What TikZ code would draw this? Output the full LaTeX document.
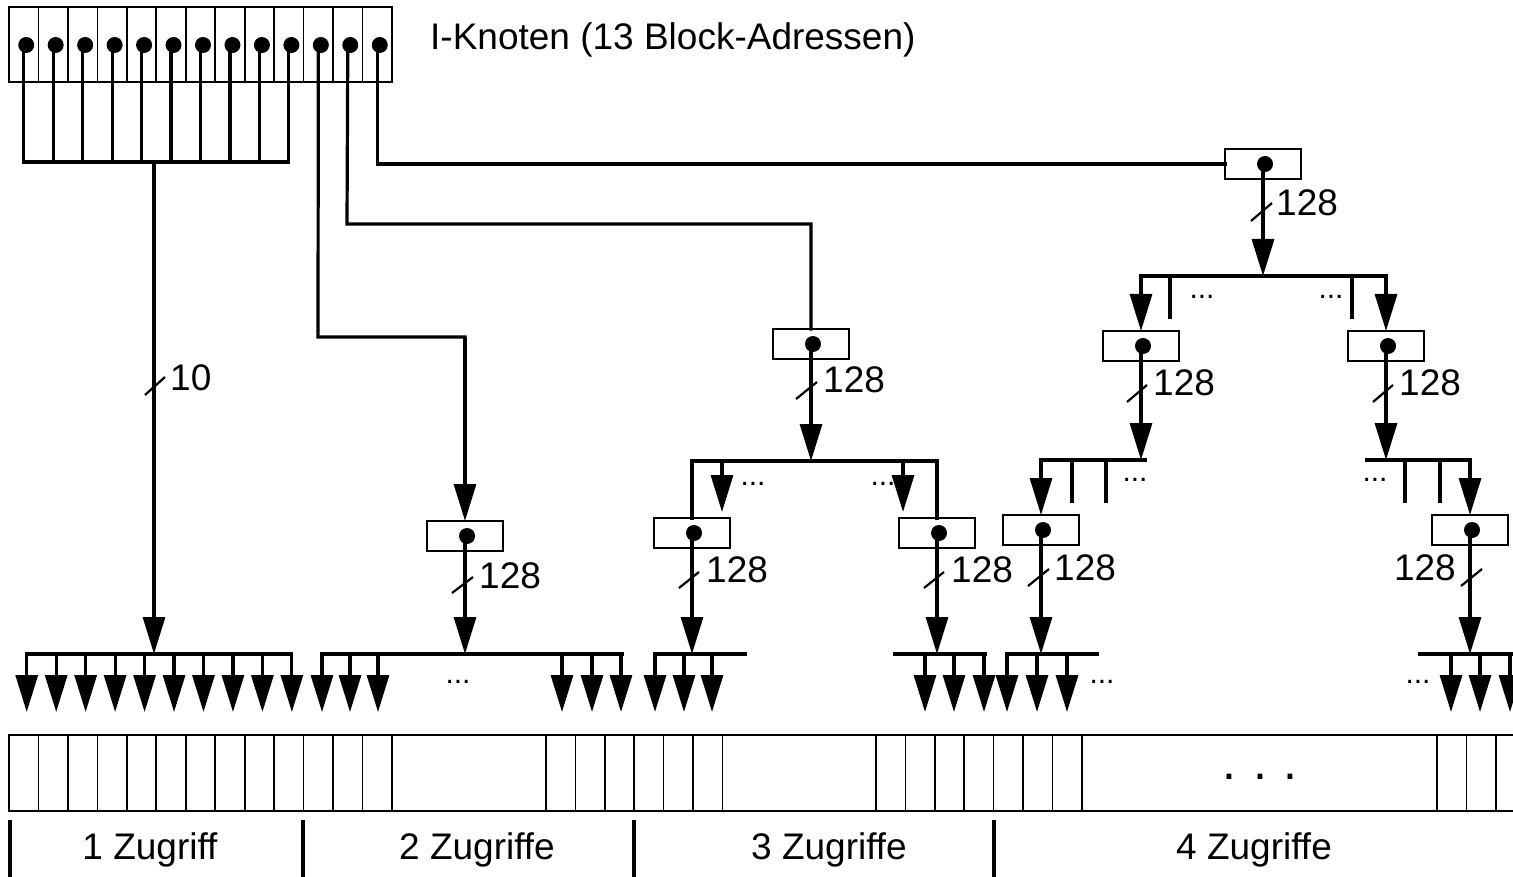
\documentclass[tikz,border=0pt]{standalone}
\usepackage{fontspec}
\setmainfont{Liberation Sans}
\usetikzlibrary{arrows.meta}
\begin{document}
\begin{tikzpicture}[x=1pt,y=-1pt,
  conn/.style={line width=3.2pt,line cap=rect},
  arr/.style={line width=3.2pt,-{Triangle[length=37pt,width=22pt]}},
  thinl/.style={line width=1.7pt},
  ptrbox/.style={draw,line width=1.7pt,minimum width=76pt,minimum height=30pt,inner sep=0pt,outer sep=0pt},
  dotc/.style={fill,circle,inner sep=0pt,minimum size=16pt},
  lbl/.style={font=\fontsize{37}{42}\selectfont,inner sep=0pt},
  smalldots/.style={font=\fontsize{30}{34}\selectfont,inner sep=0pt},
  slash/.style={line width=2.2pt}]
\useasboundingbox (0,0) rectangle (1513,877);

% ---------------- I-node ----------------
\draw[thinl] (9,7) rectangle (392,82);
\foreach \k in {1,...,12} \draw[thinl] (9+29.46*\k,7) -- (9+29.46*\k,82);
\foreach \k in {1,...,13}{
  \pgfmathsetmacro\cx{9+29.46*(\k-0.5)}
  \coordinate (l\k) at (\cx,45);
}
\node[lbl,anchor=west] (title) at (430,40) {I-Knoten (13 Block-Adressen)};

% direct pointers
\foreach \k in {2,...,9} \draw[conn] (l\k) -- (l\k |- 0,162);
\draw[conn] (l1) -- (l1 |- 0,162) -- (l10 |- 0,162) -- (l10);
\coordinate (t1) at (154,162);
\coordinate (lb1) at (154,654);
\draw[arr] (t1) -- (lb1);
\draw[slash] (145,395) -- (165,377);
\node[lbl,anchor=west] (n10) at (170,378) {10};

% ---------------- boxes ----------------
\node[ptrbox] (B1) at (1263,164) {};
\node[ptrbox] (B2) at (465,536) {};
\node[ptrbox] (B3) at (811,344) {};
\node[ptrbox] (B3L) at (692,533) {};
\node[ptrbox] (B3R) at (937,533) {};
\node[ptrbox] (B4L) at (1141,346) {};
\node[ptrbox] (B4R) at (1386,346) {};
\node[ptrbox] (B4LL) at (1041,530) {};
\node[ptrbox] (B4RR) at (1470,530) {};

% ---------------- single indirect (2 accesses) ----------------
\coordinate (c11) at (318,337);
\coordinate (c11b) at (465,337);
\draw[conn] (l11) -- (c11) -- (c11b);
\draw[arr] (c11b) -- (B2.north);
\coordinate (lb2) at (465,654);
\draw[arr] (B2.center) -- (lb2);
\draw[slash] (452,593) -- (473,577);
\node[lbl,anchor=west] (n2) at (479,576) {128};

% ---------------- double indirect (3 accesses) ----------------
\coordinate (c12) at (347,224);
\coordinate (c12b) at (811,224);
\draw[conn] (l12) -- (c12) -- (c12b) -- (B3.north);
\coordinate (h3) at (811,461);
\draw[arr] (B3.center) -- (h3);
\draw[slash] (796,399) -- (817,382);
\node[lbl,anchor=west] (n3) at (823,380) {128};
\coordinate (h3L) at (692,461);
\coordinate (h3R) at (937,461);
\draw[conn] (B3L.north) -- (h3L) -- (h3R) -- (B3R.north);
\draw[arr] (722,461) -- (722,512);
\draw[arr] (903,461) -- (903,512);
\node[smalldots] (e3a) at (753,484) {...};
\node[smalldots] (e3b) at (883,484) {...};
\coordinate (lb3L) at (692,654);
\coordinate (lb3R) at (937,654);
\draw[arr] (B3L.center) -- (lb3L);
\draw[arr] (B3R.center) -- (lb3R);
\draw[slash] (679,588) -- (699,572);
\draw[slash] (924,588) -- (944,572);
\node[lbl,anchor=west] (n3L) at (706,570) {128};
\node[lbl,anchor=west] (n3R) at (951,570) {128};

% ---------------- triple indirect (4 accesses) ----------------
\draw[conn] (l13) |- (B1.west);
\coordinate (h4) at (1263,276);
\draw[arr] (B1.center) -- (h4);
\draw[slash] (1251,221) -- (1272,203);
\node[lbl,anchor=west] (n4) at (1276,203) {128};
\coordinate (h4L) at (1141,276);
\coordinate (h4R) at (1386,276);
\draw[conn] (h4L) -- (h4R);
\draw[arr] (h4L) -- (B4L.north);
\draw[arr] (h4R) -- (B4R.north);
\draw[conn] (1170,276) -- (1170,317);
\draw[conn] (1352,276) -- (1352,317);
\node[smalldots] (e4a) at (1202,297) {...};
\node[smalldots] (e4b) at (1331,297) {...};

\coordinate (h5L) at (1141,460);
\coordinate (h5R) at (1386,460);
\draw[arr] (B4L.center) -- (h5L);
\draw[arr] (B4R.center) -- (h5R);
\draw[slash] (1127,402) -- (1147,385);
\draw[slash] (1373,402) -- (1393,385);
\node[lbl,anchor=west] (n4L) at (1153,383) {128};
\node[lbl,anchor=west] (n4R) at (1399,383) {128};

\coordinate (h6L) at (1041,460);
\coordinate (h6R) at (1470,460);
\draw[conn] (h6L) -- (1145,460);
\draw[conn] (1367,460) -- (h6R);
\draw[arr] (h6L) -- (B4LL.north);
\draw[arr] (h6R) -- (B4RR.north);
\draw[conn] (1072,460) -- (1072,501);
\draw[conn] (1106,460) -- (1106,501);
\draw[conn] (1405,460) -- (1405,501);
\draw[conn] (1440,460) -- (1440,501);
\node[smalldots] (e5a) at (1135,480) {...};
\node[smalldots] (e5b) at (1375,480) {...};

\coordinate (lb4L) at (1041,654);
\coordinate (lb4R) at (1470,654);
\draw[arr] (B4LL.center) -- (lb4L);
\draw[arr] (B4RR.center) -- (lb4R);
\draw[slash] (1028,586) -- (1049,569);
\draw[slash] (1461,586) -- (1482,569);
\node[lbl,anchor=west] (n4LL) at (1054,568) {128};
\node[lbl,anchor=east] (n4RR) at (1456,568) {128};

% ---------------- dots in pointer boxes ----------------
\foreach \b in {B1,B2,B3,B3L,B3R,B4L,B4R,B4LL,B4RR}
  \node[dotc] (\b dot) at ([xshift=2pt]\b.center) {};
\foreach \k in {1,...,13}
  \node[dotc] (d\k) at ([xshift=2.5pt]l\k) {};

% ---------------- leaf fan-outs ----------------
\draw[conn] (27,654) -- (291,654);
\foreach \k in {1,...,10}{
  \pgfmathsetmacro\ax{9+29.46*(\k-0.5)+3}
  \draw[arr] (\ax,654) -- (\ax,712);
}
\draw[conn] (322,654) -- (622,654);
\foreach \x in {322,350,378,562,592,621} \draw[arr] (\x,654) -- (\x,712);
\node[smalldots] (e6) at (458,682) {...};

\draw[conn] (655,654) -- (745,654);
\foreach \x in {655,684,712} \draw[arr] (\x,654) -- (\x,712);
\draw[conn] (895,654) -- (985,654);
\foreach \x in {925,954,984} \draw[arr] (\x,654) -- (\x,712);

\draw[conn] (1007,654) -- (1097,654);
\foreach \x in {1007,1037,1067} \draw[arr] (\x,654) -- (\x,712);
\node[smalldots] (e7) at (1102,682) {...};
\draw[conn] (1420,654) -- (1513,654);
\foreach \x in {1451,1480,1510} \draw[arr] (\x,654) -- (\x,712);
\node[smalldots] (e8) at (1418,682) {...};

% ---------------- data blocks ----------------
\draw[thinl] (1513,735) -- (9,735) -- (9,811) -- (1513,811);
\foreach \k in {1,...,13} \draw[thinl] (9+29.46*\k,735) -- (9+29.46*\k,811);
\foreach \k in {0,...,6} \draw[thinl] (546+29.4*\k,735) -- (546+29.4*\k,811);
\foreach \k in {0,...,7} \draw[thinl] (876+29.4*\k,735) -- (876+29.4*\k,811);
\foreach \k in {0,...,2} \draw[thinl] (1437+29.4*\k,735) -- (1437+29.4*\k,811);
\node[font=\fontsize{50}{56}\selectfont,inner sep=0pt] (bigdots) at (1260,777) {.\hspace{17pt}.\hspace{17pt}.};

% ---------------- access counts ----------------
\foreach \x in {10,303,634,994} \draw[conn,line cap=butt] (\x,820) -- (\x,877);
\node[lbl] (z1) at (150,850) {1 Zugriff};
\node[lbl] (z2) at (477,850) {2 Zugriffe};
\node[lbl] (z3) at (829,850) {3 Zugriffe};
\node[lbl] (z4) at (1254,850) {4 Zugriffe};
\end{tikzpicture}
\end{document}
